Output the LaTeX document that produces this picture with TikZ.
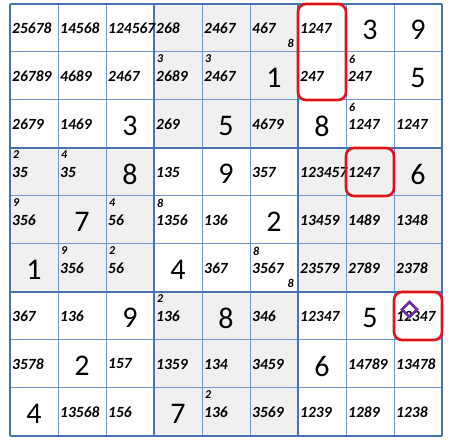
\documentclass[tikz,border=0pt]{standalone}
\usepackage{fontspec}
\setmainfont{Carlito}
\usetikzlibrary{shapes.geometric}
\definecolor{grid thin}{HTML}{7096CA}
\definecolor{grid thick}{HTML}{4A74B0}
\definecolor{box shade}{HTML}{F0F0F0}
\definecolor{mark red}{HTML}{E0141C}
\definecolor{mark purple}{HTML}{7030A0}
\tikzset{
  given/.style={font=\fontsize{30}{30}\selectfont, inner sep=0pt},
  cand/.style={font=\fontsize{15.5}{15.5}\selectfont\bfseries\itshape, anchor=west, inner sep=0pt},
  corner/.style={font=\fontsize{12}{12}\selectfont\bfseries\itshape, inner sep=0pt}
  }
\tikzstyle{thin line} = [draw=grid thin, line width=1pt]
\tikzstyle{box line} = [draw=grid thick, line width=2.6pt]
\tikzstyle{mark box} = [draw=mark red, line width=2.6pt, rounded corners=8pt]

\begin{document}
\begin{tikzpicture}[x=1pt, y=-1pt]

    % page and shaded boxes
    \fill[white] (0,0) rectangle (451,446);
    \foreach \br/\bc in {0/1, 1/0, 1/2, 2/1} {
      \fill[box shade] ({10+144*\bc}, {4+144*\br}) rectangle ++(144,144);
    }

    % The lines of the grid
    \foreach \i in {1,2,4,5,7,8} {
      \path[thin line] ({10+48*\i}, 4) -- ++(0,432);
      \path[thin line] (10, {4+48*\i}) -- ++(432,0);
    }
    \foreach \i in {0,3,6,9} {
      \path[box line] ({10+48*\i}, 4) -- ++(0,432);
      \path[box line] (10, {4+48*\i}) -- ++(432,0);
    }

    % the given digits
    \foreach \r/\c/\v in {1/8/3, 1/9/9, 2/6/1, 2/9/5, 3/3/3, 3/5/5, 3/7/8, 4/3/8, 4/5/9, 4/9/6, 5/2/7, 5/6/2, 6/1/1, 6/4/4, 7/3/9, 7/5/8, 7/8/5, 8/2/2, 8/7/6, 9/1/4, 9/4/7} {
      \node[given] (g\r\c) at ({48*\c-14}, {48*\r-18}) {\v};
    }

    % the candidates
    \foreach \r/\c/\v in {1/1/25678, 1/2/14568, 1/3/124567, 1/4/268, 1/5/2467, 1/6/467, 1/7/1247, 2/1/26789, 2/2/4689, 2/3/2467, 2/4/2689, 2/5/2467, 2/7/247, 2/8/247, 3/1/2679, 3/2/1469, 3/4/269, 3/6/4679, 3/8/1247, 3/9/1247, 4/1/35, 4/2/35, 4/4/135, 4/6/357, 4/7/123457, 4/8/1247, 5/1/356, 5/3/56, 5/4/1356, 5/5/136, 5/7/13459, 5/8/1489, 5/9/1348, 6/2/356, 6/3/56, 6/5/367, 6/6/3567, 6/7/23579, 6/8/2789, 6/9/2378, 7/1/367, 7/2/136, 7/4/136, 7/6/346, 7/7/12347, 7/9/12347, 8/1/3578, 8/3/157, 8/4/1359, 8/5/134, 8/6/3459, 8/8/14789, 8/9/13478, 9/2/13568, 9/3/156, 9/5/136, 9/6/3569, 9/7/1239, 9/8/1289, 9/9/1238} {
      \node[cand] (p\r\c) at ({48*\c-36}, {48*\r-20}) {\v};
    }

    % small digits in the corners
    \foreach \r/\c/\v in {2/4/3, 2/5/3, 2/8/6, 3/8/6, 4/1/2, 4/2/4, 5/1/9, 5/3/4, 5/4/8, 6/2/9, 6/3/2, 6/6/8, 7/4/2, 9/5/2} {
      \node[corner, anchor=west] (t\r\c) at ({48*\c-35}, {48*\r-37}) {\v};
    }
    \foreach \r/\c/\v in {1/6/8, 6/6/8} {
      \node[corner, anchor=east] (b\r\c) at ({48*\c+6}, {48*\r-5}) {\v};
    }

    % The marks
    \path[mark box] (298,4) rectangle (346,100);
    \path[mark box] (346,148) rectangle (394,196);
    \path[mark box] (394,292) rectangle (442,340);
    \node[diamond, draw=mark purple, line width=2.6pt, minimum size=16pt, inner sep=0pt] (focus) at (409.5,309.5) {};
\end{tikzpicture}
\end{document}
